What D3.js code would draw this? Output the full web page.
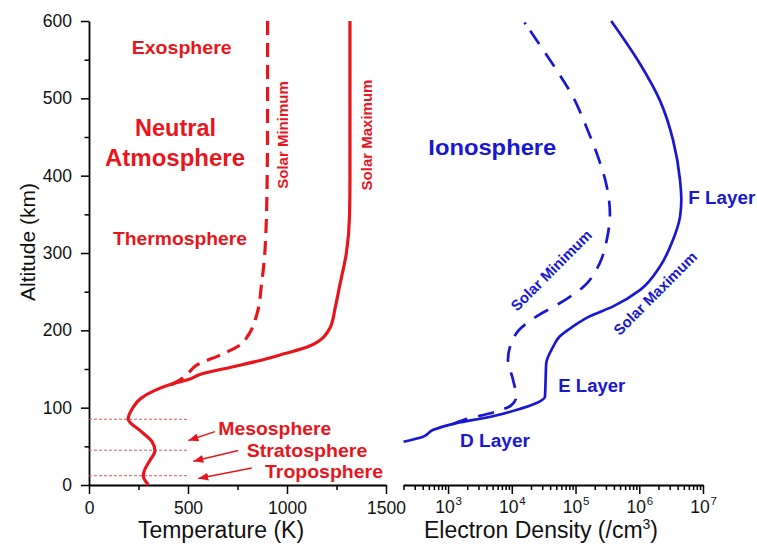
<!DOCTYPE html>
<html><head><meta charset="utf-8">
<script src="https://cdn.jsdelivr.net/npm/d3@7"></script>
<style>
body{margin:0;background:#fff}
svg{display:block}
text{font-family:"Liberation Sans",Arial,sans-serif}
</style>
</head><body>
<svg id="c" width="757" height="552"></svg>
<script>
// ---------- DATA ----------
// Temperature profiles (altitude km, temperature K)
const altTempMax = [0, 12, 20, 32, 44, 56, 70, 85, 100, 112, 122, 130, 137, 143, 152, 162, 170, 179, 203, 230, 260, 300, 350, 400, 500, 600];
const tempMax    = [300, 274, 282, 308, 333, 318, 260, 198, 222, 262, 330, 410, 510, 560, 712, 880, 990, 1108, 1217, 1244, 1268, 1300, 1316, 1318, 1318, 1318];
const altTempMin = [129, 136, 143, 155, 168, 181, 194, 220, 261, 304, 400, 500, 600];
const tempMin    = [409, 460, 495, 544, 662, 763, 805, 847, 872, 889, 900, 902, 902];

// Electron density profiles (altitude km, density /cm^3)
const altDensMax = [56, 62.5, 71, 80, 88, 97, 106, 114, 135, 157, 179, 192, 205, 218, 231, 252, 282, 317, 347, 369, 394, 446, 498, 545, 600];
const densMax    = [200, 407, 575, 1350, 4470, 11750, 24550, 33100, 33900, 34670, 44670, 56230, 91200, 165960, 389000, 1.023e6, 2.089e6, 3.388e6, 4.365e6, 4.571e6, 4.365e6, 3.39e6, 2.09e6, 1.02e6, 3.63e5];
const altDensMin = [78, 84, 95, 103, 114, 136, 162, 196, 218, 235, 256, 287, 317, 351, 386, 425, 463, 502, 537, 575, 598];
const densMin    = [1120, 1740, 5750, 9770, 11750, 10470, 8710, 11750, 24550, 56230, 131800, 239900, 309000, 346700, 309000, 223900, 147900, 91200, 50100, 24550, 15850];

// Layer boundaries (km) and annotation arrows (tail/tip in K, km)
const boundaryAlt = [85, 45, 12];
const boundaryTempEnd = 500;
const layerNames = ["Mesosphere", "Stratosphere", "Troposphere"];
const arrowTail = [[636, 69], [754, 44.6], [822, 22]];
const arrowTip  = [[502, 57.5], [527, 30.8], [552, 8.3]];

// Ticks
const altTicks = [0, 100, 200, 300, 400, 500, 600];
const altMinorTicks = [50, 150, 250, 350, 450, 550];
const tempTicks = [0, 500, 1000, 1500];
const tempMinorTicks = [250, 750, 1250];
const densTicks = [1e3, 1e4, 1e5, 1e6, 1e7];

// ---------- DRAW ----------
const RED = "#e8161c", BLUE = "#1818d2", FONT = "'Liberation Sans', Arial, sans-serif";
const svg = d3.select("#c");
const y  = d3.scaleLinear().domain([0, 600]).range([485, 21]);
const xT = d3.scaleLinear().domain([0, 1500]).range([89, 386]);
const xN = d3.scaleLog().domain([200, 1e7]).range([403.5, 703]);

function styleAxis(g) {
  g.attr("font-size", 17.5).attr("font-family", FONT);
  g.select(".domain").attr("stroke", "#000").attr("stroke-width", 1.8);
  g.selectAll(".tick line").attr("stroke", "#000").attr("stroke-width", 1.5);
  g.selectAll(".tick text").attr("fill", "#111");
}
function minorAxis(g) {
  g.call(styleAxis);
  g.select(".domain").remove();
  g.selectAll(".tick text").remove();
}

// Left y axis
svg.append("g").attr("transform", "translate(89,0)")
  .call(d3.axisLeft(y).tickValues(altTicks).tickSize(8).tickSizeOuter(0).tickPadding(9).tickFormat(d3.format("d")))
  .call(styleAxis);
svg.append("g").attr("transform", "translate(89,0)")
  .call(d3.axisLeft(y).tickValues(altMinorTicks).tickSize(4.5))
  .call(minorAxis);

// Temperature axis
svg.append("g").attr("transform", "translate(0,485)")
  .call(d3.axisBottom(xT).tickValues(tempTicks).tickSize(9).tickSizeOuter(0).tickPadding(8).tickFormat(d3.format("d")))
  .call(styleAxis);
svg.append("g").attr("transform", "translate(0,485)")
  .call(d3.axisBottom(xT).tickValues(tempMinorTicks).tickSize(5))
  .call(minorAxis);

// Density axis (labels drawn as base "10" + separate exponent text)
const densMinor = [];
for (let e = 2; e < 7; e++) for (let m = 2; m < 10; m++) { const v = m * Math.pow(10, e); if (v >= 200) densMinor.push(v); }
const gN = svg.append("g").attr("transform", "translate(0,485)")
  .call(d3.axisBottom(xN).tickValues(densTicks).tickSize(9).tickSizeOuter(0))
  .call(styleAxis);
gN.selectAll(".tick text").remove();
const dl = svg.append("g").attr("font-family", FONT).attr("fill", "#111");
dl.selectAll("text.base").data(densTicks).join("text").attr("class", "base")
  .attr("x", d => xN(d) - 3).attr("y", 513).attr("text-anchor", "middle").attr("font-size", 17.5).text("10");
dl.selectAll("text.exp").data(densTicks).join("text").attr("class", "exp")
  .attr("x", d => xN(d) + 7.5).attr("y", 505).attr("text-anchor", "start").attr("font-size", 11.5)
  .text(d => Math.round(Math.log10(d)));
svg.append("g").attr("transform", "translate(0,485)")
  .call(d3.axisBottom(xN).tickValues(densMinor).tickSize(5))
  .call(minorAxis);

// Axis titles
svg.append("text").attr("transform", "translate(35,242) rotate(-90)").attr("text-anchor", "middle")
  .attr("font-size", 21).attr("fill", "#111").text("Altitude (km)");
svg.append("text").attr("x", 221).attr("y", 538).attr("text-anchor", "middle")
  .attr("font-size", 23).attr("fill", "#111").text("Temperature (K)");
const et = svg.append("text").attr("x", 541).attr("y", 538).attr("text-anchor", "middle")
  .attr("font-size", 23).attr("fill", "#111");
et.append("tspan").text("Electron Density (/cm");
et.append("tspan").attr("dy", -9).attr("font-size", 14).text("3");
et.append("tspan").attr("dy", 9).text(")");

// Boundary dotted lines
svg.append("g").selectAll("line").data(boundaryAlt).join("line")
  .attr("x1", xT(0)).attr("x2", xT(boundaryTempEnd))
  .attr("y1", d => y(d)).attr("y2", d => y(d))
  .attr("stroke", "#d9585a").attr("stroke-width", 1).attr("stroke-dasharray", "3,2");

// Temperature lines (ordered top-down so pixel y increases; monotone in y)
const lineT = d3.line().x(d => xT(d[1])).y(d => y(d[0])).curve(d3.curveMonotoneY);
svg.append("path").datum(d3.zip(altTempMax, tempMax).reverse()).attr("d", lineT)
  .attr("fill", "none").attr("stroke", RED).attr("stroke-width", 3.2).attr("stroke-linejoin", "round");
svg.append("path").datum(d3.zip(altTempMin, tempMin).reverse()).attr("d", lineT)
  .attr("fill", "none").attr("stroke", RED).attr("stroke-width", 3.2).attr("stroke-dasharray", "14,8");

// Density lines
const lineN = d3.line().x(d => xN(d[1])).y(d => y(d[0])).curve(d3.curveMonotoneY);
svg.append("path").datum(d3.zip(altDensMax, densMax).reverse()).attr("d", lineN)
  .attr("fill", "none").attr("stroke", BLUE).attr("stroke-width", 2.7).attr("stroke-linejoin", "round");
const dashMin = ["2,8"].concat(d3.range(30).map(() => "16,11")).join(",");
svg.append("path").datum(d3.zip(altDensMin, densMin).reverse()).attr("d", lineN)
  .attr("fill", "none").attr("stroke", BLUE).attr("stroke-width", 2.7).attr("stroke-dasharray", dashMin);

// Arrows
svg.append("defs").append("marker").attr("id", "ah").attr("viewBox", "0 0 10 8")
  .attr("refX", 10).attr("refY", 4).attr("markerWidth", 10).attr("markerHeight", 8)
  .attr("markerUnits", "userSpaceOnUse").attr("orient", "auto")
  .append("path").attr("d", "M0,0 L10,4 L0,8 Z").attr("fill", RED);
svg.append("g").selectAll("line").data(d3.range(arrowTail.length)).join("line")
  .attr("x1", i => xT(arrowTail[i][0])).attr("y1", i => y(arrowTail[i][1]))
  .attr("x2", i => xT(arrowTip[i][0])).attr("y2", i => y(arrowTip[i][1]))
  .attr("stroke", RED).attr("stroke-width", 1.5).attr("marker-end", "url(#ah)");

// Labels
function label(txt, x, yy, size, color, opts = {}) {
  const t = svg.append("text").attr("font-size", size).attr("font-weight", "bold").attr("fill", color).text(txt);
  if (opts.rotate !== undefined) t.attr("transform", `translate(${x},${yy}) rotate(${opts.rotate})`);
  else t.attr("x", x).attr("y", yy);
  t.attr("text-anchor", opts.anchor || "start");
  if (opts.len) t.attr("textLength", opts.len).attr("lengthAdjust", "spacingAndGlyphs");
  return t;
}
label("Exosphere", 131.7, 53.5, 19, RED, {len: 100});
label("Neutral", 175.5, 136, 23, RED, {anchor: "middle", len: 81});
label("Atmosphere", 175, 166, 23, RED, {anchor: "middle", len: 140});
label("Thermosphere", 113, 245, 19, RED, {len: 134});
label("Solar Minimum", 287.5, 135, 15, RED, {rotate: -90, anchor: "middle"});
label("Solar Maximum", 371.5, 135, 15, RED, {rotate: -90, anchor: "middle"});
const layerX = [218.3, 246.7, 265], layerY = [435, 456.7, 478.3], layerLen = [113, 120.6, 118];
layerNames.forEach((n, i) => label(n, layerX[i], layerY[i], 19, RED, {len: layerLen[i]}));

label("Ionosphere", 428.3, 154.5, 22, BLUE, {len: 128});
label("F Layer", 688.3, 203.5, 18, BLUE, {len: 67});
label("E Layer", 558.3, 391.7, 18, BLUE, {len: 67});
label("D Layer", 460, 447, 18, BLUE, {len: 70});
label("Solar Minimum", 555, 274, 15, BLUE, {rotate: -45, anchor: "middle"});
label("Solar Maximum", 659, 297, 15, BLUE, {rotate: -45, anchor: "middle"});
</script>
</body></html>
